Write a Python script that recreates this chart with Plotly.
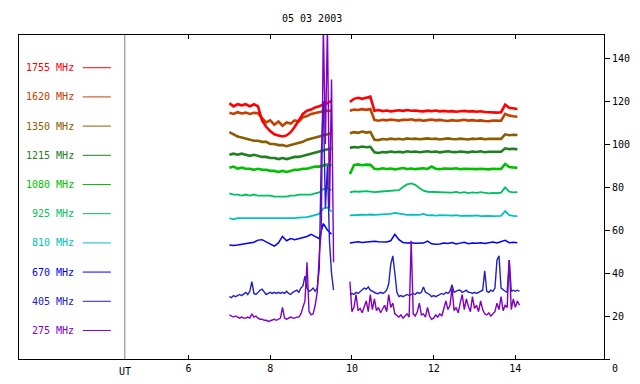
import numpy as np
import plotly.graph_objects as go

# ---------------- data ----------------
title_text = "05 03 2003"
freq_labels = ["1755 MHz", "1620 MHz", "1350 MHz", "1215 MHz", "1080 MHz",
               "925 MHz", "810 MHz", "670 MHz", "405 MHz", "275 MHz"]
colors = ["#ff0000", "#c44000", "#8c5c00", "#208020", "#00c000",
          "#00c060", "#00c0c0", "#0000ff", "#2020c8", "#8000c0"]
x_ticks = [6, 8, 10, 12, 14]
y_ticks = [0, 20, 40, 60, 80, 100, 120, 140]
y_ticktext = ["", "20", "40", "60", "80", "100", "120", "140"]
ut_hour = 4.44

# time grids (hours UT)
t_a = np.round(np.arange(7.0, 9.501, 0.1), 2).tolist()
t_b = np.round(np.arange(9.95, 14.051, 0.1), 2).tolist()
t_a_fine = np.round(np.arange(7.0, 9.551, 0.05), 2).tolist()
t_b_fine = np.round(np.arange(9.95, 14.101, 0.05), 2).tolist()

f1755_a = [119, 117.5, 118.5, 118, 118.5, 117.5, 118.5, 117.5, 111, 108, 106, 104.5, 104,
           103.5, 104, 105.5, 108, 111, 114, 115.5, 116, 117, 117.5, 118.5, 119, 120]
f1755_b = [119.5, 121, 121.5, 121, 121.5, 122, 115.5, 115.8, 115.3, 115.6,
           115.2, 115.5, 115.7, 115.4, 115.8, 115.5, 115.6, 115.3, 115.2, 115.5,
           115.3, 115.6, 115.2, 115.4, 115.1, 115.3, 115.0, 115.2, 115.4, 115.1,
           115.3, 115.0, 115.2, 114.9, 114.7, 114.8, 114.6, 114.8, 118.3, 116.8,
           116.5, 116.3]

f1620_a = [114.5, 114, 114.8, 114.2, 114.6, 114, 114.5, 114.3, 112, 110, 111, 109, 110.5,
           108.5, 110, 109.5, 111, 110.5, 112.5, 113, 114, 114.5, 115, 115.2, 115.5, 115.5]
f1620_b = [115.5, 116, 115.8, 116.2, 115.9, 116.3, 111.2, 110.8, 111.3, 111,
           111.4, 111.1, 110.9, 111.3, 111.2, 111.5, 111, 111.2, 110.8, 111.1,
           111.4, 111, 111.2, 110.9, 110.7, 111.1, 110.8, 111, 111.3, 110.9,
           111.1, 110.8, 111, 110.7, 110.6, 110.9, 110.7, 110.8, 114, 113.2,
           112.9, 112.7]

f1350_a = [105.5, 104.5, 103.5, 103, 102.5, 102, 101.5, 101.5, 101, 101, 100, 100, 99.5,
           99.5, 99, 99.5, 100, 100.5, 101, 102, 102.5, 103, 103.5, 104, 104.5, 105]
f1350_b = [105, 105.5, 105.2, 105.8, 105.3, 105.6, 102, 101.8, 102.3, 102.1,
           102.5, 102.2, 102.4, 102.1, 102.6, 102.3, 102.5, 102.2, 102.4, 102.6,
           102.3, 102.5, 102.1, 102.4, 102.6, 102.3, 102.2, 102.5, 102.4, 102.1,
           102.5, 102.3, 102.6, 102.2, 102.4, 102.3, 102.5, 102.4, 104.5, 104.1,
           104.3, 104.2]

f1215_a = [95, 95.5, 95, 95.5, 95, 94.5, 95, 94.5, 94, 94, 93.5, 93.5, 93,
           93.5, 93, 93.5, 94, 94, 94.5, 95, 95.5, 96, 96.5, 97, 97.5, 98]
f1215_b = [98.2, 98.6, 98.4, 98.8, 98.5, 98.7, 96.1, 95.8, 96.3, 96.1,
           96.5, 96.2, 96.4, 96.1, 96.6, 96.3, 96.5, 96.2, 96.4, 96.6,
           96.3, 96.5, 96.1, 96.4, 96.6, 96.3, 96.2, 96.5, 96.4, 96.1,
           96.5, 96.3, 96.6, 96.2, 96.4, 96.3, 96.2, 96.4, 98, 97.6,
           97.8, 97.5]

f1080_a = [89, 89.5, 88.5, 89, 88.5, 88.5, 88, 88.5, 88, 88, 87.5, 87.5, 87,
           87.5, 87, 87.5, 88, 88, 88.5, 88.5, 89, 89.5, 89.5, 90, 90.5, 90]
f1080_b = [86, 90.2, 90.5, 90.1, 90.4, 90.3, 88.5, 88.3, 88.7, 88.4,
           88.6, 88.2, 88.5, 88.8, 88.4, 88.6, 88.3, 88.5, 88.7, 88.4,
           89.5, 88.5, 88.3, 88.6, 88.4, 88.5, 88.7, 88.3, 88.5, 88.4,
           88.6, 88.3, 88.5, 88.4, 88.2, 88.5, 88.3, 88.4, 90.7, 89.3,
           89.1, 88.9]

f925_a = [77, 76.5, 76.5, 76, 76.5, 76, 76.5, 76, 76, 76, 76, 75.5, 75.5,
          75.5, 75.5, 76, 76, 76.5, 76.5, 76.5, 76.5, 77, 77.5, 79, 79.5, 78.5]
f925_b = [77.5, 78, 77.8, 77.9, 78.1, 77.8, 77.6, 77.8, 77.9, 78.2,
          78, 78.1, 78.5, 80, 81.2, 81.7, 81, 79.5, 78.3, 77.8,
          77.7, 77.6, 77.8, 77.5, 77.6, 77.4, 77.7, 77.3, 77.6, 77.2,
          77.5, 77.3, 77.6, 77.2, 77.0, 77.3, 77.1, 77.4, 79.8, 77.8,
          77.5, 77.6]

f810_a = [65.5, 65, 65.5, 65.5, 65.3, 65.6, 65.4, 65.5, 65.3, 65.6, 65.4, 65.5, 65.3,
          65.5, 65.4, 65.6, 65.5, 65.8, 65.9, 66, 66.5, 67, 67.5, 70, 70.5, 68.5]
f810_b = [66.8, 67, 66.9, 67.1, 67, 67.2, 67, 67.1, 67.3, 67.2,
          67.5, 68, 67.6, 67.2, 67, 67.1, 66.9, 67, 67.5, 66.8,
          66.9, 66.7, 66.9, 67, 66.8, 66.7, 66.9, 66.6, 66.8, 66.7,
          66.6, 66.8, 66.5, 66.7, 66.6, 66.5, 66.7, 66.6, 68.8, 66.9,
          66.6, 66.5]

f670_a = [53, 52.8, 53, 53.3, 53.8, 54, 54.3, 55.3, 55.5, 54.5, 53.5, 52.5, 54,
          57, 55, 56, 55.5, 56, 56.5, 57, 58, 57, 56, 63, 60, 58]
f670_b = [54, 54.3, 54.5, 54.2, 54.4, 54.6, 54.8, 54.5, 54.6, 54.4,
          55, 58, 55.5, 54.2, 54, 54.1, 53.8, 54, 53.9, 54.8,
          53.6, 53.4, 53.5, 54, 53.7, 54.2, 53.5, 53.9, 54.3, 53.6,
          54, 53.8, 54.1, 53.7, 54.2, 54.4, 54, 54.5, 55.2, 54.1,
          54.3, 54.1]

f405_a = [29, 28.5, 29.5, 29, 29.5, 30, 29.5, 30.5, 31, 30,
          31.5, 36, 30.5, 30, 31, 32, 32.5, 31, 30, 30.5,
          31, 30.5, 31, 30.5, 31, 30.5, 31, 30.5, 31.5, 30.5,
          30, 31, 31.5, 32, 31, 33, 34, 38.5, 33, 31.5,
          32, 33, 31.5, 33, 42, 95, 120, 70, 90, 55,
          40, 32]
f405_b = [29.8, 30.5, 30, 31, 30.5, 31.5, 32, 33, 32.5, 33.5,
          32, 31.5, 31, 30.5, 30.5, 31, 30.5, 31, 32, 35,
          44, 48, 40, 31, 29, 29.5, 29, 29.5, 30, 29.5,
          30, 30.5, 30, 31, 30.5, 31, 33.5, 31, 30.5, 30,
          29, 29.5, 29, 29.5, 30, 30.5, 30, 31, 30.5, 31.5,
          34.5, 31, 31.5, 32, 32, 31, 31.5, 32, 31, 31,
          30.5, 31, 30.5, 31, 31.5, 32, 41, 31.5, 31, 32,
          31.5, 33, 46, 48, 33, 32, 31.5, 31, 46, 31.5,
          32, 31.5, 32, 31.5]

f275_a = [20.5, 20, 19.5, 20, 19.5, 19, 19.5, 19, 19, 19.5,
          19, 21, 19.5, 20, 19, 18.5, 18.5, 18, 18, 17.5,
          17.8, 18, 18.5, 18, 18.5, 19, 24, 19, 18.5, 19,
          19.5, 19, 19, 19.5, 19.5, 21, 24, 27, 45, 22,
          20.5, 21, 25, 31, 48, 60, 155, 100, 155, 70,
          130, 45]
f275_b = [36, 22, 24, 30, 22.5, 23.5, 21.5, 24, 27, 22,
          30, 23, 28, 22.5, 24, 21.5, 23, 25, 22, 30,
          24, 26, 21, 20, 19.5, 20.5, 19, 20, 21, 19.5,
          55, 21, 20, 22, 26, 20.5, 21, 19.5, 24, 20,
          18.5, 19, 20.5, 19.5, 21, 20, 24, 27, 23, 25,
          33, 22.5, 24, 21.5, 26, 30, 23, 28, 24.5, 22,
          29, 23.5, 25, 22, 27, 23, 21, 20.5, 21.5, 20,
          21, 22, 26, 23, 29, 22.5, 25, 24, 46, 23,
          28, 24, 27, 25]

series = {
    "1755 MHz": (t_a, f1755_a, t_b, f1755_b),
    "1620 MHz": (t_a, f1620_a, t_b, f1620_b),
    "1350 MHz": (t_a, f1350_a, t_b, f1350_b),
    "1215 MHz": (t_a, f1215_a, t_b, f1215_b),
    "1080 MHz": (t_a, f1080_a, t_b, f1080_b),
    "925 MHz": (t_a, f925_a, t_b, f925_b),
    "810 MHz": (t_a, f810_a, t_b, f810_b),
    "670 MHz": (t_a, f670_a, t_b, f670_b),
    "405 MHz": (t_a_fine, f405_a, t_b_fine, f405_b),
    "275 MHz": (t_a_fine, f275_a, t_b_fine, f275_b),
}
widths = {"1755 MHz": 2.6, "1620 MHz": 2.6, "1350 MHz": 2.6, "1215 MHz": 2.6, "1080 MHz": 2.6,
          "925 MHz": 1.8, "810 MHz": 1.8, "670 MHz": 1.5, "405 MHz": 1.4, "275 MHz": 1.4}

color_of = dict(zip(freq_labels, colors))
draw_order = ["1620 MHz", "1755 MHz", "1350 MHz", "1215 MHz", "1080 MHz",
              "925 MHz", "810 MHz", "670 MHz", "405 MHz", "275 MHz"]

fig = go.Figure()
for name in draw_order:
    ta, ya, tb, yb = series[name]
    fig.add_trace(go.Scatter(
        x=list(ta) + [None] + list(tb),
        y=list(ya) + [None] + list(yb),
        mode="lines", name=name, connectgaps=False,
        line=dict(color=color_of[name], width=widths[name]),
        hoverinfo="skip"))

FONT = "DejaVu Sans Mono"

# legend (drawn inside the plot, as in the original)
annotations = []
shapes = []
for i, (lab, col) in enumerate(zip(freq_labels, colors)):
    yp = 0.899 - i * 0.0901
    annotations.append(dict(x=0.098, y=yp, xref="paper", yref="paper", text=lab,
                            showarrow=False, xanchor="right", yanchor="middle",
                            font=dict(family=FONT, size=10, color=col)))
    shapes.append(dict(type="line", xref="paper", yref="paper", x0=0.109, x1=0.157,
                       y0=yp, y1=yp, line=dict(color=col, width=1)))

# UT marker line + label
shapes.append(dict(type="line", xref="x", yref="paper", x0=ut_hour, x1=ut_hour,
                   y0=0, y1=1, line=dict(color="#808080", width=1)))
annotations.append(dict(x=ut_hour, y=-0.04, xref="x", yref="paper", text="UT",
                        showarrow=False, xanchor="center", yanchor="middle",
                        font=dict(family=FONT, size=10, color="black")))
annotations.append(dict(x=0.5, y=1.05, xref="paper", yref="paper", text=title_text,
                        showarrow=False, xanchor="center", yanchor="middle",
                        font=dict(family=FONT, size=10, color="black")))
# the "0" label of the right axis sits slightly below the axis corner
annotations.append(dict(x=1.0, y=-0.028, xref="paper", yref="paper", text="0",
                        showarrow=False, xanchor="left", xshift=6, yanchor="middle",
                        font=dict(family=FONT, size=10, color="black")))

# page body has an 8px default margin, so the figure is sized/offset to compensate
fig.update_layout(
    width=632, height=376,
    margin=dict(l=10, r=35, t=27, b=25),
    paper_bgcolor="white", plot_bgcolor="white",
    showlegend=False,
    annotations=annotations, shapes=shapes,
    xaxis=dict(range=[1.85, 16.17], tickvals=x_ticks, ticks="inside", ticklen=4,
               tickcolor="black", showline=True, linecolor="black", linewidth=1,
               mirror="ticks", showgrid=False, zeroline=False,
               tickfont=dict(family=FONT, size=10, color="black")),
    yaxis=dict(range=[0, 150.7], tickvals=y_ticks, ticktext=y_ticktext, side="right",
               ticks="outside", ticklen=5, tickcolor="black", showline=True,
               linecolor="black", linewidth=1, mirror=True, showgrid=False,
               zeroline=False, tickfont=dict(family=FONT, size=10, color="black")),
)

fig.write_html("out.html")
